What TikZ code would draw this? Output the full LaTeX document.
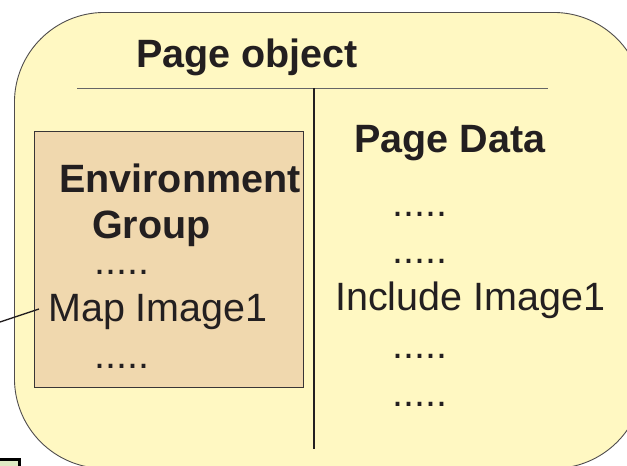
\documentclass[tikz,border=0pt]{standalone}
\usepackage{fontspec}
\setmainfont{Liberation Sans}
\definecolor{pagefill}{RGB}{255,248,194}
\definecolor{envfill}{RGB}{240,216,174}
\definecolor{inkc}{RGB}{35,31,32}
\definecolor{boxfill}{RGB}{224,234,196}
\tikzset{
  lbl/.style={anchor=base west, inner sep=0pt, text=inkc, font=\fontsize{39.5}{44}\selectfont},
  blbl/.style={lbl, font=\fontsize{39.5}{44}\selectfont\bfseries},
  dots/.style={lbl},
}
\begin{document}
\begin{tikzpicture}[x=1pt,y=-1pt]
\useasboundingbox (0,0) rectangle (627,466);
\clip (0,0) rectangle (627,466);
% page object
\node[draw=inkc!80, line width=0.9pt, fill=pagefill, rounded corners=90pt, minimum width=629pt, minimum height=456pt, inner sep=0pt, anchor=north west] (page) at (14,12) {};
\draw[line width=0.9pt, draw=black!60] (77,88) coordinate (hl) -- (548,88) coordinate (hr);
\draw[line width=1.2pt, draw=inkc] (314,88) coordinate (vt) -- (314,449) coordinate (vb);
% environment group box
\node[draw=inkc!90, line width=0.9pt, fill=envfill, minimum width=269pt, minimum height=256pt, inner sep=0pt, anchor=north west] (env) at (34,131) {};
% small box at bottom-left
\node[draw=black, line width=3pt, fill=boxfill, minimum width=30pt, minimum height=30pt, inner sep=0pt, anchor=north east] (small) at (21,458) {};
% texts
\node[blbl] (title) at (136,67) {Page object};
\node[blbl] (envt) at (59,192) {Environment};
\node[blbl] (grp) at (92,238) {Group};
\node[dots] (d1) at (94,274) {.....};
\node[lbl] (map) at (48,321) {Map Image1};
\node[dots] (d2) at (94,368) {.....};
\node[blbl] (pd) at (354,152) {Page Data};
\node[dots] (r1) at (392,216) {.....};
\node[dots] (r2) at (392,263) {.....};
\node[lbl] (inc) at (335,310) {Include Image1};
\node[dots] (r3) at (392,358) {.....};
\node[dots] (r4) at (392,406) {.....};
% connector
\coordinate (c0) at (0,322);
\draw[line width=1.3pt, draw=inkc] (c0) -- ([xshift=-9pt,yshift=12pt]map.base west);
\end{tikzpicture}
\end{document}
